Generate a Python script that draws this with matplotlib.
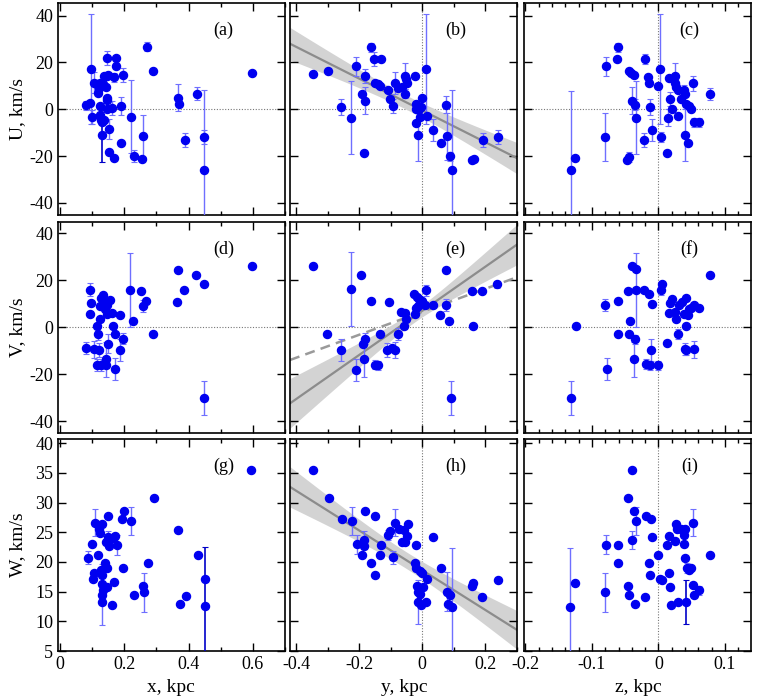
import numpy as np
import matplotlib
matplotlib.use("Agg")
import matplotlib.pyplot as plt
from matplotlib.ticker import MultipleLocator

plt.rcParams['font.family'] = ['Liberation Serif', 'DejaVu Serif']
plt.rcParams['axes.unicode_minus'] = False

# ---- panel data: coordinate, velocity, error (0 = no bar) ----
# (a) U vs x
a_x = [0.082, 0.093, 0.097, 0.100, 0.107, 0.115, 0.117, 0.120, 0.124, 0.126, 0.126, 0.128, 0.130, 0.132,
       0.134, 0.138, 0.138, 0.144, 0.146, 0.146, 0.146, 0.146, 0.146, 0.148, 0.152, 0.152, 0.161, 0.167,
       0.167, 0.175, 0.175, 0.190, 0.190, 0.196, 0.221, 0.229, 0.258, 0.256, 0.270, 0.291, 0.367, 0.371,
       0.390, 0.427, 0.449, 0.449, 0.596]
a_u = [1.7, 2.7, 17.1, -3.3, 11.3, 10.7, 7.0, 8.9, 11.3, 1.3, -2.6, -4.7, -11.0, -5.4,
       10.6, 14.1, -4.4, 9.6, 21.7, 14.1, 4.6, 3.9, 0.3, 14.6, -8.3, -18.3, 0.7, -20.7,
       13.6, 21.7, 18.4, 1.3, -14.4, 14.6, -3.3, -20.0, -11.4, -21.3, 26.7, 16.4, 4.9, 2.1,
       -13.3, 6.7, -11.9, -25.9, 15.3]
a_err = [2, 0, 23.5, 3, 4.5, 0, 0, 0, 0, 0, 0, 0, 11.7, 0,
         0, 0, 0, 0, 3, 0, 0, 0, 0, 0, 4.3, 0, 3, 0,
         2, 0, 0, 3.8, 0, 3, 15.6, 2.7, 9, 0, 2, 0, 5.7, 0,
         3, 2.9, 3, 34, 0]
a_dark = [12]

# (b) U vs y
b_y = [-0.345, -0.300, -0.256, -0.225, -0.209, -0.191, -0.185, -0.183, -0.181, -0.162, -0.152, -0.149,
       -0.141, -0.131, -0.134, -0.108, -0.102, -0.093, -0.086, -0.076, -0.065, -0.055, -0.055, -0.048,
       -0.052, -0.023, -0.021, -0.021, -0.019, -0.015, -0.010, -0.007, -0.005, 0.0, 0.013, 0.015,
       0.034, 0.060, 0.075, 0.077, 0.088, 0.094, 0.158, 0.163, 0.191, 0.239]
b_u = [15.0, 16.3, 1.0, -3.6, 18.4, 6.4, -18.7, 3.6, 14.4, 26.4, 21.3, 11.4,
       10.7, 21.4, 9.9, 8.4, 4.3, 1.3, 11.3, 8.9, 9.6, 6.7, 14.3, 11.3,
       13.1, 14.1, 2.4, -0.1, -5.9, -11.1, 0.3, -3.3, 1.0, 4.6, 17.0, -2.9,
       -8.7, -14.4, 2.0, -11.6, -20.1, -25.9, -21.6, -21.1, -13.3, -11.9]
b_err = [0, 0, 3.3, 15.6, 4, 0, 0, 5.7, 3, 2, 3, 0,
         0, 0, 0, 0, 0, 3.1, 4.7, 0, 0, 2, 5.5, 0,
         0, 0, 0, 0, 0, 11, 0, 0, 0, 0, 23.5, 0,
         4.7, 0, 3.5, 10, 2, 34, 0, 0, 3, 3]
b_dark = []

# (c) U vs z
c_z = [-0.132, -0.125, -0.081, -0.0785, -0.0625, -0.0605, -0.047, -0.0445, -0.045, -0.041, -0.0395,
       -0.037, -0.036, -0.0345, -0.021, -0.0195, -0.015, -0.0135, -0.012, -0.010, -0.001, 0.0025,
       0.0045, 0.013, 0.0145, 0.0155, 0.017, 0.020, 0.025, 0.0255, 0.027, 0.029, 0.030, 0.034,
       0.039, 0.040, 0.040, 0.041, 0.044, 0.046, 0.049, 0.052, 0.053, 0.061, 0.0775]
c_u = [-26.1, -20.9, -11.9, 18.4, 21.4, 26.4, -21.6, -20.4, 16.3, 15.3, 3.6,
       14.6, 2.0, -3.6, -13.3, 21.4, 13.9, 11.4, 1.0, -8.7, 10.0, 17.0,
       -11.9, -18.7, -3.6, 13.4, 4.4, 0.3, 14.3, 11.3, 9.3, -3.0, 8.4, 4.4,
       8.4, 6.4, -11.1, 2.1, -14.4, 1.3, -0.1, 11.0, -5.6, -5.6, 6.4]
c_err = [34, 0, 10.3, 4, 0, 2, 0, 2, 0, 0, 5.7,
         0, 2.5, 15.6, 3, 2, 0, 0, 3.5, 4.7, 0, 23.5,
         2, 0, 3.5, 0, 3, 0, 5.5, 0, 0, 0, 0, 0,
         2, 0, 11, 0, 0, 0, 0, 3, 2, 2, 2.5]
c_dark = []

# (d) V vs x
d_x = [0.082, 0.095, 0.097, 0.095, 0.105, 0.115, 0.117, 0.115, 0.121, 0.125, 0.125, 0.127, 0.129, 0.135,
       0.137, 0.141, 0.143, 0.143, 0.145, 0.147, 0.151, 0.156, 0.162, 0.166, 0.171, 0.171, 0.188, 0.188,
       0.195, 0.218, 0.226, 0.253, 0.257, 0.268, 0.288, 0.364, 0.368, 0.387, 0.424, 0.449, 0.447, 0.596]
d_v = [-8.7, 15.9, 10.2, 5.7, -9.4, 0.6, -2.8, -16.2, -9.6, 3.4, 9.1, -16.2, 12.5, 13.9,
       10.5, 7.7, -13.6, -15.9, 9.6, 5.7, -7.0, 11.8, 6.0, 0.6, -2.8, -17.9, 5.1, -9.8,
       -4.8, 16.0, 2.8, 15.5, 9.1, 11.2, -2.8, 10.8, 24.5, 15.7, 22.4, 18.6, -30.1, 26.0]
d_err = [2.5, 2.8, 0, 0, 3.5, 0, 2.5, 2.5, 3, 0, 0, 2.5, 0, 0,
         0, 0, 7.5, 0, 0, 0, 4, 0, 0, 0, 0, 4.7, 0, 4.7,
         2.5, 15.7, 0, 0, 2.5, 0, 0, 0, 0, 0, 0, 0, 7.1, 0]
d_dark = []

# (e) V vs y
e_y = [-0.347, -0.301, -0.258, -0.226, -0.211, -0.193, -0.189, -0.185, -0.183, -0.164, -0.151, -0.139,
       -0.134, -0.111, -0.104, -0.096, -0.088, -0.077, -0.067, -0.057, -0.055, -0.050, -0.026, -0.023,
       -0.021, -0.018, -0.015, -0.010, -0.005, 0.0, 0.010, 0.012, 0.033, 0.057, 0.074, 0.075, 0.086,
       0.092, 0.156, 0.162, 0.188, 0.237]
e_v = [26.1, -2.8, -9.8, 16.2, -18.0, 22.4, -7.0, -13.6, -4.8, 11.3, -15.9, -16.2,
       -2.8, -9.6, 10.8, -8.8, -9.6, -2.8, 6.5, 0.6, 6.2, 3.7, 14.0, 5.7,
       8.2, 12.8, 9.1, 11.9, 10.5, 11.1, 9.4, 15.7, 9.6, 5.1, 24.5, 9.4, 2.8,
       -30.1, 15.5, 0.6, 15.6, 18.4]
e_err = [0, 0, 4.7, 15.7, 4.7, 0, 0, 7.5, 2.5, 0, 2, 2,
         0, 3, 0, 0, 3.5, 2.5, 0, 0, 0, 0, 0, 0,
         0, 0, 0, 0, 0, 0, 0, 2.5, 0, 0, 0, 2.5, 0,
         7.1, 0, 0, 0, 1.5]
e_dark = []

# (f) V vs z
f_z = [-0.131, -0.1245, -0.080, -0.078, -0.061, -0.061, -0.046, -0.0445, -0.0435, -0.0395, -0.037,
       -0.036, -0.0345, -0.0335, -0.021, -0.018, -0.0145, -0.012, -0.011, -0.0095, 0.0, 0.004, 0.005,
       0.013, 0.0155, 0.017, 0.020, 0.025, 0.0265, 0.030, 0.0305, 0.035, 0.039, 0.0405, 0.041, 0.0415,
       0.0415, 0.045, 0.0465, 0.049, 0.054, 0.053, 0.0615, 0.078]
f_v = [-30.1, 0.4, 9.4, -17.9, 11.2, -2.8, 15.5, -2.8, 2.8, 26.1, -13.6,
       -5.1, 24.7, 16.0, 15.7, -15.7, 14.0, -16.2, -9.8, 9.9, -16.2, 15.7, 18.6,
       -6.7, 6.2, 10.5, 11.9, 6.5, 3.7, -2.8, 9.4, 10.8, 5.5, -9.1, 12.5, 0.4,
       -9.8, 5.1, 7.9, 8.2, 9.4, -9.4, 8.4, 22.4]
f_err = [7.1, 0, 2.5, 4.7, 0, 0, 0, 0, 0, 0, 7.5,
         2, 0, 15.7, 0, 2, 0, 2, 4.7, 0, 2, 2, 0,
         0, 0, 0, 0, 0, 0, 2, 0, 0, 0, 2.5, 0, 0,
         2, 0, 0, 0, 0, 3.5, 0, 0]
f_dark = []

# (g) W vs x
g_x = [0.087, 0.099, 0.102, 0.106, 0.110, 0.119, 0.122, 0.124, 0.128, 0.130, 0.130, 0.130, 0.130, 0.130,
       0.135, 0.141, 0.143, 0.145, 0.147, 0.149, 0.151, 0.153, 0.157, 0.162, 0.166, 0.168, 0.172, 0.176,
       0.193, 0.195, 0.199, 0.222, 0.230, 0.257, 0.261, 0.273, 0.292, 0.368, 0.372, 0.393, 0.428, 0.450,
       0.452, 0.595]
g_w = [20.7, 23.0, 17.1, 18.1, 26.6, 21.1, 25.5, 24.9, 18.6, 26.4, 17.8, 16.2, 13.2, 14.5,
       15.2, 19.8, 23.3, 15.8, 19.0, 27.7, 24.2, 22.7, 23.9, 12.8, 24.1, 16.6, 24.3, 22.9,
       27.2, 19.0, 28.6, 26.9, 14.5, 16.0, 14.9, 19.9, 30.8, 25.3, 12.9, 14.2, 21.2, 12.5,
       17.1, 35.5]
g_err = [1.1, 0, 0, 0, 2.3, 0, 0, 0, 0, 0, 0, 0, 0, 5.1,
         0, 0, 0, 0, 0, 0, 1, 0, 0, 0, 0, 0, 0, 1.7,
         0, 0, 0, 2.4, 0, 0, 3.3, 0, 0, 0, 0, 0, 0, 10,
         0, 0]
g_dark = [41]

# (h) W vs y
h_y = [-0.346, -0.296, -0.255, -0.222, -0.208, -0.190, -0.186, -0.181, -0.184, -0.161, -0.151, -0.149,
       -0.134, -0.132, -0.110, -0.103, -0.093, -0.086, -0.075, -0.063, -0.058, -0.054, -0.049, -0.046,
       -0.021, -0.022, -0.019, -0.016, -0.013, -0.012, -0.008, -0.008, -0.005, 0.0, 0.002, 0.012, 0.014,
       0.035, 0.060, 0.079, 0.080, 0.088, 0.095, 0.157, 0.162, 0.190, 0.241]
h_w = [35.5, 30.8, 27.2, 26.9, 23.0, 21.2, 22.7, 28.6, 23.7, 19.9, 27.7, 17.8,
       21.1, 22.9, 24.5, 25.2, 20.8, 26.6, 25.5, 23.4, 25.3, 23.3, 24.3, 26.4,
       22.9, 19.8, 19.0, 16.0, 15.0, 13.3, 14.6, 18.5, 12.8, 18.1, 15.7, 13.3, 17.1,
       24.2, 19.0, 15.0, 12.9, 14.5, 12.4, 16.0, 16.5, 14.1, 17.0]
h_err = [0, 0, 0, 2.4, 1.6, 0, 0, 0, 1.5, 0, 0, 0,
         0, 0, 0.8, 0, 1.1, 2.3, 0, 0, 0, 0, 0, 0,
         0, 0, 0, 0, 0, 3.7, 0, 0, 0, 0, 0, 0, 0,
         0, 0, 3.3, 0, 0, 10, 0, 0, 0, 0]
h_dark = []

# (i) W vs z
i_z = [-0.1325, -0.1255, -0.0805, -0.0785, -0.0615, -0.0605, -0.0455, -0.0455, -0.0445, -0.0395, -0.0395,
       -0.0365, -0.034, -0.035, -0.0205, -0.019, -0.0135, -0.0125, -0.0115, -0.0095, 0.0, 0.0025, 0.006,
       0.0135, 0.0155, 0.0155, 0.0175, 0.0195, 0.0245, 0.026, 0.0285, 0.0295, 0.0335, 0.0375, 0.0385,
       0.0385, 0.0405, 0.0405, 0.041, 0.0435, 0.0455, 0.0485, 0.0515, 0.0525, 0.0535, 0.0605, 0.077]
i_w = [12.4, 16.5, 14.9, 22.9, 22.9, 19.8, 30.8, 16.0, 14.5, 35.5, 23.7,
       28.6, 26.9, 12.9, 14.1, 27.7, 19.8, 17.8, 27.2, 24.2, 21.1, 17.2, 17.0,
       22.8, 24.3, 18.1, 15.8, 12.8, 23.5, 26.4, 25.5, 13.3, 25.5, 25.3, 24.6,
       23.0, 20.7, 25.5, 13.3, 19.0, 18.7, 19.0, 26.6, 16.1, 14.5, 15.2, 21.2]
i_err = [10, 0, 3.3, 1.6, 0, 0, 0, 0, 0, 0, 1.5,
         0, 2.4, 0, 0, 0, 0, 0, 0, 0, 0, 0, 0,
         0, 0, 0, 0, 0, 0, 0, 0, 0, 0, 0, 0,
         0, 0, 0, 3.7, 0.8, 0, 0, 2.3, 0, 0, 0.8, 0]
i_dark = [38]

# linear fits: intercept, slope, sigma at centre, centre, sigma of slope
fit_b = (-0.5, -68.0, 3.0, -0.05, 17.0)
fit_e = (7.0, 94.0, 2.5, -0.02, 25.7)
fit_e_dashed = (6.6, 49.0)
fit_h = (18.6, -33.5, 1.4, -0.05, 8.4)

# ---- layout (pixels) ----
W_PX, H_PX = 764, 699
cols = [(58, 285), (290, 517), (524, 751)]
rows = [(3, 215), (222, 433), (439, 651)]
xlims = [(-0.006, 0.70), (-0.419, 0.30), (-0.202, 0.139)]
ylims = [(-45.2, 45.4), (-45.0, 44.8), (5.0, 40.7)]

PT_COLOR = '#0000f0'
ERR_COLOR = '#6f6fff'
DARK_ERR = '#0000c8'

fig = plt.figure(figsize=(W_PX / 100, H_PX / 100), dpi=100)

panels = [
    [(a_x, a_u, a_err, a_dark, '(a)'), (b_y, b_u, b_err, b_dark, '(b)'), (c_z, c_u, c_err, c_dark, '(c)')],
    [(d_x, d_v, d_err, d_dark, '(d)'), (e_y, e_v, e_err, e_dark, '(e)'), (f_z, f_v, f_err, f_dark, '(f)')],
    [(g_x, g_w, g_err, g_dark, '(g)'), (h_y, h_w, h_err, h_dark, '(h)'), (i_z, i_w, i_err, i_dark, '(i)')],
]
fits = {(0, 1): fit_b, (1, 1): fit_e, (2, 1): fit_h}


def draw_fit(ax, fit, xr):
    a, b, s0, xc, s1 = fit
    xx = np.linspace(xr[0], xr[1], 200)
    yy = a + b * xx
    hw = np.sqrt(s0 ** 2 + (s1 * (xx - xc)) ** 2)
    ax.fill_between(xx, yy - hw, yy + hw, color='#d3d3d3', lw=0, zorder=1)
    ax.plot(xx, yy, color='#8c8c8c', lw=1.6, zorder=2)


for r in range(3):
    for c in range(3):
        x0, x1 = cols[c]
        y0, y1 = rows[r]
        ax = fig.add_axes([x0 / W_PX, 1 - y1 / H_PX, (x1 - x0) / W_PX, (y1 - y0) / H_PX])
        xs, vs, errs, dark, lab = panels[r][c]
        xs = np.array(xs)
        vs = np.array(vs)
        errs = np.array(errs, dtype=float)

        ax.set_xlim(*xlims[c])
        ax.set_ylim(*ylims[r])

        if r < 2:
            ax.axhline(0, color='#777777', lw=0.8, ls=(0, (1, 1.5)), zorder=1)
        if c > 0:
            ax.axvline(0, color='#777777', lw=0.8, ls=(0, (1, 1.5)), zorder=1)

        if (r, c) in fits:
            draw_fit(ax, fits[(r, c)], xlims[c])
        if (r, c) == (1, 1):
            xx = np.linspace(xlims[c][0], xlims[c][1], 50)
            ax.plot(xx, fit_e_dashed[0] + fit_e_dashed[1] * xx, color='#9a9a9a',
                    lw=1.8, ls=(0, (4, 2.5)), zorder=2)

        has = errs > 0
        light = has.copy()
        light[dark] = False
        ax.errorbar(xs[light], vs[light], yerr=errs[light], fmt='none', ecolor=ERR_COLOR,
                    elinewidth=1.0, capsize=2, capthick=0.8, zorder=3)
        if dark:
            ax.errorbar(xs[dark], vs[dark], yerr=errs[dark], fmt='none', ecolor=DARK_ERR,
                        elinewidth=1.2, capsize=2, capthick=0.8, zorder=3)
        ax.plot(xs, vs, 'o', color=PT_COLOR, ms=5.8, mec=PT_COLOR, zorder=4)

        ax.text(0.73, 0.87, lab, transform=ax.transAxes, ha='center', va='center', fontsize=13)

        # ticks
        if c < 2:
            ax.xaxis.set_major_locator(MultipleLocator(0.2))
            ax.xaxis.set_minor_locator(MultipleLocator(0.1))
        else:
            ax.xaxis.set_major_locator(MultipleLocator(0.1))
            ax.xaxis.set_minor_locator(MultipleLocator(0.02))
        ax.yaxis.set_major_locator(MultipleLocator(20 if r < 2 else 5))
        ax.tick_params(which='both', direction='in', top=True, right=True, labelsize=13)
        ax.tick_params(which='major', length=6, width=1)
        ax.tick_params(which='minor', length=3, width=1)
        for sp in ax.spines.values():
            sp.set_linewidth(1.2)

        if c > 0:
            ax.set_yticklabels([])
        if r < 2:
            ax.set_xticklabels([])
        else:
            ax.xaxis.set_major_formatter(plt.FuncFormatter(lambda v, p: '0' if abs(v) < 1e-9 else ('%g' % v)))

fig.text(18 / W_PX, 1 - 109 / H_PX, 'U, km/s', rotation=90, ha='center', va='center', fontsize=14)
fig.text(18 / W_PX, 1 - 327 / H_PX, 'V, km/s', rotation=90, ha='center', va='center', fontsize=14)
fig.text(18 / W_PX, 1 - 545 / H_PX, 'W, km/s', rotation=90, ha='center', va='center', fontsize=14)
fig.text(171 / W_PX, 1 - 688 / H_PX, 'x, kpc', ha='center', va='center', fontsize=14)
fig.text(404 / W_PX, 1 - 688 / H_PX, 'y, kpc', ha='center', va='center', fontsize=14)
fig.text(638 / W_PX, 1 - 688 / H_PX, 'z, kpc', ha='center', va='center', fontsize=14)

fig.savefig('out.png', dpi=100)
